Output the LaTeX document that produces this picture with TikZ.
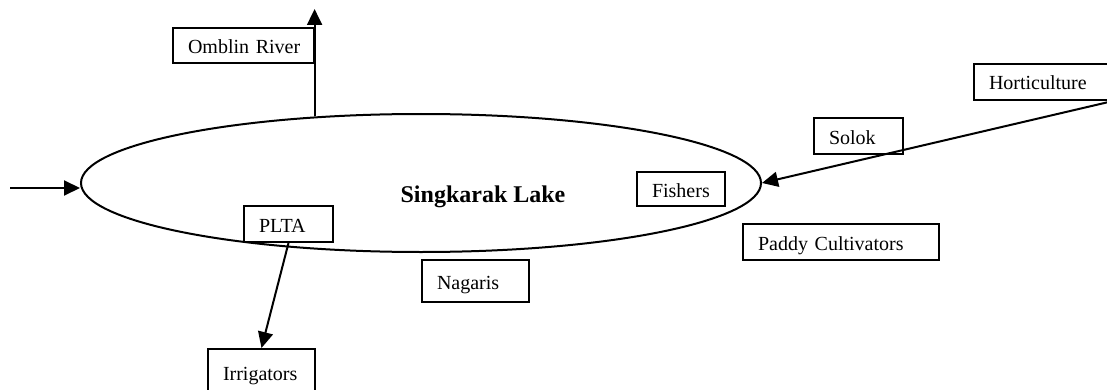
\documentclass[tikz,border=0pt]{standalone}
\usepackage{fontspec}
\setmainfont{Liberation Serif}
\usetikzlibrary{shapes.geometric,arrows.meta}

\begin{document}
\begin{tikzpicture}[x=0.5pt,y=-0.5pt]
\tikzset{
  lbl/.style={draw, line width=1pt, anchor=north west, inner xsep=7.5pt,
    text height=8pt, text depth=0pt, align=left,
    font=\fontsize{10}{12}\selectfont},
  flow/.style={line width=1pt, -{Triangle[length=8pt,width=7.5pt]}},
  lake/.style={draw, line width=1pt, ellipse, inner sep=0pt,
    minimum width=340pt, minimum height=69pt}
}
\useasboundingbox (0,0) rectangle (1107,390);

% the lake
\node[lake] (lake) at (421,183) {};
\node[font=\bfseries\fontsize{12}{14}\selectfont, anchor=base] (lakename) at (483,202) {Singkarak Lake};

% stakeholders and outlets
\node[lbl, text width=55.5pt, minimum height=17.5pt] (omblin)  at (172,27)  {\mbox{Omblin River}};
\node[lbl, text width=54pt,   minimum height=18pt]   (horti)   at (973,63)  {\mbox{Horticulture}};
\node[lbl, text width=29.5pt, minimum height=18pt]   (solok)   at (813,117) {\mbox{Solok}};
\node[lbl, text width=29pt,   minimum height=17pt]   (fishers) at (636,171) {\mbox{Fishers}};
\node[lbl, text width=83pt,   minimum height=18pt]   (paddy)   at (742,223) {\mbox{Paddy Cultivators}};
\node[lbl, text width=29.5pt, minimum height=18pt]   (plta)    at (243,205) {\mbox{PLTA}};
\node[lbl, text width=38.5pt, minimum height=21pt]   (nagaris) at (421,259) {\mbox{Nagaris}};
\node[lbl, text width=38.5pt, minimum height=23pt]   (irrig)   at (207,348) {\mbox{Irrigators}};

% free ends of the river flows
\coordinate (inflow)   at (10,188);
\coordinate (riverout) at (315,9);

% flows
\draw[flow] (inflow) -- (inflow -| lake.west);
\draw[flow] (lake.148) -- (lake.148 |- riverout);
\draw[flow] (horti.south east) -- (lake.east);
\draw[flow] (plta.south) -- (irrig.north);
\end{tikzpicture}
\end{document}
